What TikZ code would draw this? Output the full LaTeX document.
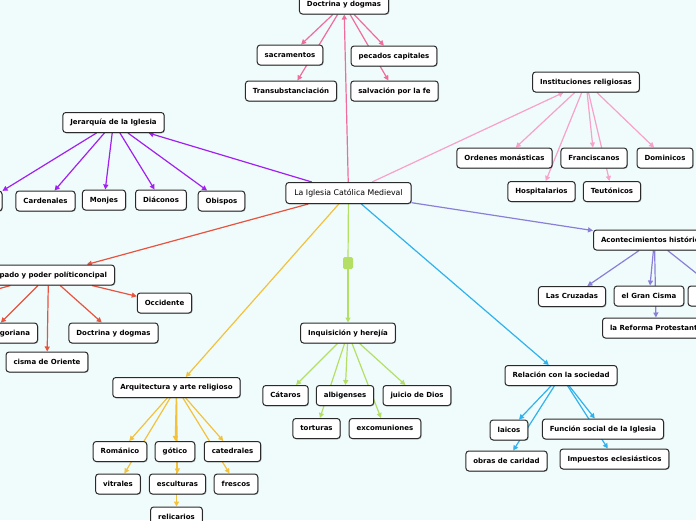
\documentclass[tikz,border=0pt]{standalone}
\usepackage{fontspec}
\setmainfont{DejaVu Sans}
\usetikzlibrary{arrows.meta,shadows}
\pgfdeclarelayer{bg}
\pgfdeclarelayer{edges}
\pgfsetlayers{bg,edges,main}
\definecolor{bgc}{HTML}{F0FCFC}
\definecolor{pinkA}{HTML}{F06C9B}
\definecolor{pinkB}{HTML}{F7A1CB}
\definecolor{purp}{HTML}{A020F0}
\definecolor{peri}{HTML}{8A7FD8}
\definecolor{redc}{HTML}{E8533F}
\definecolor{orac}{HTML}{F2C23C}
\definecolor{grec}{HTML}{B3E064}
\definecolor{bluc}{HTML}{2FB2EE}
\definecolor{bord}{HTML}{2A2A2A}
\begin{document}
\begin{tikzpicture}[x=1pt,y=-1pt,
  box/.style={draw=bord, line width=1pt, fill=white, rounded corners=3pt,
    inner xsep=7.5pt, inner ysep=0pt, minimum height=20pt,
    text height=5.4pt, text depth=1.4pt,
    font=\fontsize{7}{8}\selectfont\bfseries,
    drop shadow={shadow xshift=0.8pt,shadow yshift=-0.8pt,opacity=0.25,fill=black}},
  mainbox/.style={box, minimum height=21pt, inner xsep=8.5pt,
    text height=6pt, text depth=1.6pt,
    font=\fontsize{7.8}{9}\selectfont},
  arr/.style={line width=1.2pt, -{Triangle[length=5pt,width=5pt]}},
  plain/.style={line width=1.2pt}]
\useasboundingbox (0,0) rectangle (696,520);
\begin{pgfonlayer}{bg}
\fill[bgc] (0,0) rectangle (696,520);
\end{pgfonlayer}

% central
\node[mainbox] (central) at (348.5,193) {La Iglesia Católica Medieval};

% Doctrina y dogmas (top)
\node[box] (doc) at (344,4) {Doctrina y dogmas};
\node[box] (sac) at (290,55) {sacramentos};
\node[box] (trans) at (291,91) {Transubstanciación};
\node[box] (pec) at (394,56) {pecados capitales};
\node[box] (salv) at (394.5,91) {salvación por la fe};

% Instituciones religiosas
\node[box] (inst) at (586,82) {Instituciones religiosas};
\node[box] (ord) at (504.5,158) {Ordenes monásticas};
\node[box] (fran) at (594,158) {Franciscanos};
\node[box] (dom) at (665,158) {Dominicos};
\node[box] (hosp) at (541.5,191.5) {Hospitalarios};
\node[box] (teut) at (612,191.5) {Teutónicos};

% Jerarquia
\node[box] (jer) at (113.5,122.5) {Jerarquía de la Iglesia};
\node[box, minimum width=32pt] (papa) at (-14,201) {};
\node[box] (card) at (45.5,201) {Cardenales};
\node[box] (monj) at (104,200) {Monjes};
\node[box] (diac) at (161,200) {Diáconos};
\node[box] (obis) at (221.5,201) {Obispos};

% Acontecimientos
\node[box, anchor=west] (acon) at (593,240) {Acontecimientos históricos};
\node[box] (cruz) at (572,296.5) {Las Cruzadas};
\node[box] (gcis) at (649,296) {el Gran Cisma};
\node[box, minimum width=74pt] (acon3) at (725,296) {};
\node[box, anchor=west] (refp) at (602,328) {la Reforma Protestante};

% Papado
\node[box, anchor=east] (papado) at (115,275) {Papado y poder políticoncipal};
\coordinate (papfar) at (-60,305);
\node[box] (occ) at (164.5,303) {Occidente};
\node[box, anchor=east] (greg) at (38,333) {Reforma gregoriana};
\node[box] (doc2) at (113.5,333) {Doctrina y dogmas};
\node[box] (cis) at (47,362) {cisma de Oriente};

% Inquisicion
\node[fill=grec, rounded corners=1.5pt, minimum width=10pt, minimum height=12pt, inner sep=0pt] (sq) at (348,263) {};
\node[box] (inq) at (348,333) {Inquisición y herejía};
\node[box] (cat) at (285.5,395.5) {Cátaros};
\node[box] (alb) at (345,395.5) {albigenses};
\node[box] (juic) at (417,395.5) {juicio de Dios};
\node[box] (tort) at (316.5,428.5) {torturas};
\node[box] (exc) at (385,428.5) {excomuniones};

% Arquitectura
\node[box] (arq) at (176.5,387.5) {Arquitectura y arte religioso};
\node[box] (rom) at (120,451.5) {Románico};
\node[box] (got) at (175,451.5) {gótico};
\node[box] (cate) at (232.5,451.5) {catedrales};
\node[box] (vit) at (118,484) {vitrales};
\node[box] (esc) at (177.5,484) {esculturas};
\node[box] (fres) at (236,484) {frescos};
\node[box] (reli) at (176.5,517) {relicarios};

% Relacion
\node[box] (relc) at (561,375.5) {Relación con la sociedad};
\node[box] (lai) at (509,430) {laicos};
\node[box] (fun) at (603,429) {Función social de la Iglesia};
\node[box] (obr) at (506.5,461) {obras de caridad};
\node[box] (imp) at (614.5,459) {Impuestos eclesiásticos};

\begin{pgfonlayer}{edges}
\draw[pinkA,arr] (central) -- (doc);
\draw[pinkA,arr] (doc) -- (sac);
\draw[pinkA,arr] (doc) -- (trans);
\draw[pinkA,arr] (doc) -- (pec);
\draw[pinkA,arr] (doc) -- (salv);

\draw[pinkB,arr] (central) -- (inst);
\draw[pinkB,arr] (inst) -- (ord);
\draw[pinkB,arr] (inst) -- (fran);
\draw[pinkB,arr] (inst) -- (dom);
\draw[pinkB,arr] (inst) -- (hosp);
\draw[pinkB,arr] (inst) -- (teut);

\draw[purp,arr] (central) -- (jer);
\draw[purp,arr] (jer) -- (papa);
\draw[purp,arr] (jer) -- (card);
\draw[purp,arr] (jer) -- (monj);
\draw[purp,arr] (jer) -- (diac);
\draw[purp,arr] (jer) -- (obis);

\draw[peri,arr] (central) -- (acon);
\draw[peri,arr] (acon) -- (cruz);
\draw[peri,arr] (acon) -- (gcis);
\draw[peri,arr] (acon) -- (acon3);
\draw[peri,arr] (acon) -- (refp);

\draw[redc,arr] (central) -- (papado);
\draw[redc,arr] (papado) -- (papfar);
\draw[redc,arr] (papado) -- (occ);
\draw[redc,arr] (papado) -- (greg);
\draw[redc,arr] (papado) -- (doc2);
\draw[redc,arr] (papado) -- (cis);

\draw[grec,plain] (central) -- (sq);
\draw[grec,arr] (sq) -- (inq);
\draw[grec,arr] (inq) -- (cat);
\draw[grec,arr] (inq) -- (alb);
\draw[grec,arr] (inq) -- (juic);
\draw[grec,arr] (inq) -- (tort);
\draw[grec,arr] (inq) -- (exc);

\draw[orac,arr] (central) -- (arq);
\draw[orac,arr] (arq) -- (rom);
\draw[orac,arr] (arq) -- (vit);
\draw[orac,arr] (arq) -- (got);
\draw[orac,arr] (arq) -- (esc);
\draw[orac,arr] (arq) -- (reli);
\draw[orac,arr] (arq) -- (cate);
\draw[orac,arr] (arq) -- (fres);

\draw[bluc,arr] (central) -- (relc);
\draw[bluc,arr] (relc) -- (lai);
\draw[bluc,arr] (relc) -- (obr);
\draw[bluc,arr] (relc) -- (fun);
\draw[bluc,arr] (relc) -- (imp);
\end{pgfonlayer}
\end{tikzpicture}
\end{document}
